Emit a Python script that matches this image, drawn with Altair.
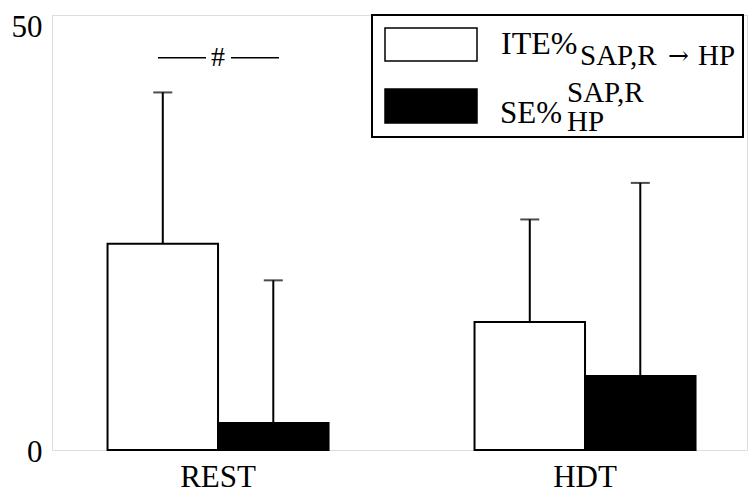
import altair as alt
import pandas as pd

# ---- data ----
groups = ["REST", "REST", "HDT", "HDT"]
series = ["ITE", "SE", "ITE", "SE"]
means = [23.7, 3.1, 14.7, 8.5]
uppers = [41.1, 19.5, 26.5, 30.7]
sig_level = [45.1]

df = pd.DataFrame({"group": groups, "series": series, "mean": means, "upper": uppers})

FONT = "Liberation Serif"
W, H = 695, 435

x_enc = alt.X("group:N", sort=["REST", "HDT"],
              scale=alt.Scale(paddingInner=0.3978, paddingOuter=0.1458, align=0.519),
              axis=alt.Axis(title=None, labelAngle=0, ticks=False, domain=False,
                            labelFont=FONT, labelFontSize=31, labelPadding=12,
                            labelColor="black"))
xo_enc = alt.XOffset("series:N", sort=["ITE", "SE"],
                     scale=alt.Scale(paddingInner=0, paddingOuter=0))
y_scale = alt.Scale(domain=[0, 50], nice=False, zero=True)
y_axis = alt.Axis(title=None, values=[0, 50], tickSize=0, domain=False, grid=False,
                  labelFont=FONT, labelFontSize=31, labelPadding=10, labelColor="black",
                  labelOffset={"condition": {"test": "datum.value == 50", "value": 12}, "value": 2})

base = alt.Chart(df)

bars = base.mark_bar(stroke="black", strokeWidth=2).encode(
    x=x_enc, xOffset=xo_enc,
    y=alt.Y("mean:Q", scale=y_scale, axis=y_axis),
    fill=alt.Fill("series:N", scale=alt.Scale(domain=["ITE", "SE"], range=["white", "black"]),
                  legend=None),
)

err = base.mark_rule(color="black", strokeWidth=2).encode(
    x=x_enc, xOffset=xo_enc,
    y=alt.Y("mean:Q", scale=y_scale, axis=y_axis),
    y2="upper:Q",
)

caps = base.mark_tick(color="black", thickness=2, size=19, orient="horizontal").encode(
    x=x_enc, xOffset=xo_enc,
    y=alt.Y("upper:Q", scale=y_scale, axis=y_axis),
)

# significance marker
sig_df = pd.DataFrame({"lvl": sig_level})
sig_base = alt.Chart(sig_df)
sig_l = sig_base.mark_rule(color="black", strokeWidth=1.5).encode(
    x=alt.value(106), x2=alt.value(154), y=alt.Y("lvl:Q", scale=y_scale, axis=y_axis))
sig_r = sig_base.mark_rule(color="black", strokeWidth=1.5).encode(
    x=alt.value(179), x2=alt.value(227), y=alt.Y("lvl:Q", scale=y_scale, axis=y_axis))
sig_t = sig_base.mark_text(text="#", font=FONT, fontSize=28, color="black",
                           baseline="middle", align="center").encode(
    x=alt.value(166), y=alt.Y("lvl:Q", scale=y_scale, axis=y_axis))

# custom legend
leg_df = pd.DataFrame({"k": [0]})
lb = alt.Chart(leg_df)
leg_box = lb.mark_rect(fill="white", stroke="black", strokeWidth=2).encode(
    x=alt.value(320), x2=alt.value(691), y=alt.value(0), y2=alt.value(122))
sw1 = lb.mark_rect(fill="white", stroke="black", strokeWidth=1.5).encode(
    x=alt.value(333), x2=alt.value(425), y=alt.value(13), y2=alt.value(46))
sw2 = lb.mark_rect(fill="black", stroke="black", strokeWidth=1.5).encode(
    x=alt.value(333), x2=alt.value(425), y=alt.value(74), y2=alt.value(108))

def txt(s, x, y, size, font=FONT, baseline="alphabetic"):
    return lb.mark_text(text=s, font=font, fontSize=size, color="black",
                        align="left", baseline=baseline).encode(
        x=alt.value(x), y=alt.value(y))

t1 = txt("ITE%", 449, 39, 32)
t1s = txt("SAP,R", 528, 50, 29)
t1a = txt("\u2192", 616, 41, 25, font="DejaVu Serif", baseline="middle")
t1h = txt("HP", 646, 50, 29)
t2 = txt("SE%", 448, 108, 31)
t2sup = txt("SAP,R", 515, 87, 29)
t2sub = txt("HP", 515, 116, 29)

chart = alt.layer(
    bars, err, caps, sig_l, sig_r, sig_t,
    leg_box, sw1, sw2, t1, t1s, t1a, t1h, t2, t2sup, t2sub
).properties(
    width=W, height=H,
    autosize=alt.AutoSizeParams(type="none"),
    padding={"left": 44, "top": 7, "right": 1, "bottom": 42},
).configure_view(stroke="black", strokeWidth=2).configure(background="white")

chart.save("out.html", embed_options={"renderer": "svg", "actions": False})
